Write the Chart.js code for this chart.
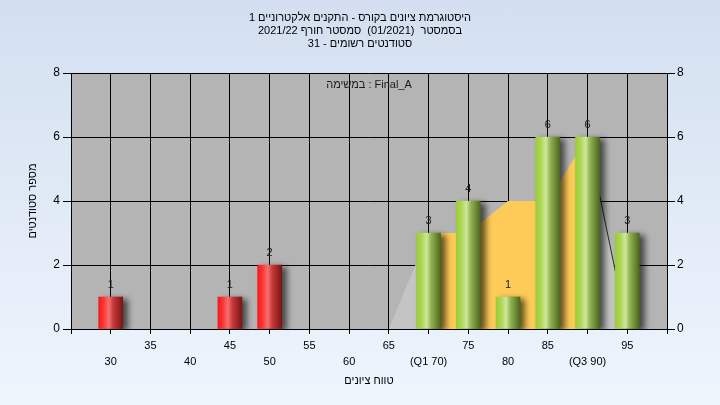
<!DOCTYPE html>
<html>
<head>
<meta charset="utf-8">
<script src="https://cdn.jsdelivr.net/npm/chart.js@4/dist/chart.umd.min.js"></script>
<style>
  html, body { margin: 0; padding: 0; }
  body { width: 720px; height: 405px; background: linear-gradient(#d3dff0, #eef5fd); overflow: hidden; }
  canvas { display: block; }
</style>
</head>
<body>
<canvas id="hist" width="720" height="405" dir="rtl"></canvas>
<script>
// --- DATA ---
const titleLines = [
  'היסטוגרמת ציונים בקורס - התקנים אלקטרוניים 1',
  'בסמסטר  (01/2021)  סמסטר חורף 2021/22',
  'סטודנטים רשומים - 31'
];
const scores = [30, 35, 40, 45, 50, 55, 60, 65, 70, 75, 80, 85, 90, 95];
const counts = [1, 0, 0, 1, 2, 0, 0, 0, 3, 4, 1, 6, 6, 3];
const curveScores = [65, 70, 75, 80, 85, 90, 95];
const curveValues = [0, 3, 3, 4, 4, 6, 0];
const q1 = 70, q3 = 90;
const passMark = 55;
const taskLabel = 'במשימה : Final_A';
const xTitle = 'טווח ציונים';
const yTitle = 'מספר סטודנטים';

const FONT = "'Liberation Sans', Arial, sans-serif";
const FS = 11;

// gradient cylinder look for the bars
function barFill(c) {
  const red = c.raw && c.raw.x < passMark;
  const chart = c.chart;
  if (!chart.chartArea || !chart.scales.x || !c.raw) return red ? '#e02020' : '#9cc83c';
  const px = chart.scales.x.getPixelForValue(c.raw.x);
  const g = chart.ctx.createLinearGradient(px - 12, 0, px + 12, 0);
  if (red) {
    g.addColorStop(0, '#ee1c1c');
    g.addColorStop(0.2, '#ff3434');
    g.addColorStop(0.42, '#f57070');
    g.addColorStop(0.6, '#c83a3a');
    g.addColorStop(1, '#7c1414');
  } else {
    g.addColorStop(0, '#9ccc3a');
    g.addColorStop(0.2, '#acd650');
    g.addColorStop(0.42, '#cfe79a');
    g.addColorStop(0.6, '#92b454');
    g.addColorStop(1, '#4c681c');
  }
  return g;
}

const plotBg = {
  id: 'plotBg',
  beforeDraw(chart) {
    const { ctx, chartArea: a } = chart;
    ctx.save();
    ctx.fillStyle = '#b4b4b4';
    ctx.fillRect(a.left, a.top, a.right - a.left, a.bottom - a.top);
    ctx.restore();
  }
};

const barShadow = {
  id: 'barShadow',
  beforeDatasetDraw(chart, args) {
    if (args.meta.type !== 'bar') return;
    const ctx = chart.ctx;
    ctx.save();
    ctx.shadowColor = 'rgba(0,0,0,0.6)';
    ctx.shadowBlur = 6;
    ctx.shadowOffsetX = 5;
    ctx.shadowOffsetY = 2;
  },
  afterDatasetDraw(chart, args) {
    if (args.meta.type !== 'bar') return;
    chart.ctx.restore();
  }
};

const barLabels = {
  id: 'barLabels',
  afterDatasetsDraw(chart) {
    const ctx = chart.ctx;
    const a = chart.chartArea;
    ctx.save();
    ctx.font = FS + 'px ' + FONT;
    ctx.fillStyle = '#1a1a1a';
    ctx.textAlign = 'center';
    ctx.textBaseline = 'middle';
    ctx.direction = 'ltr';
    const meta = chart.getDatasetMeta(0);
    meta.data.forEach((el, i) => {
      if (!counts[i]) return;
      ctx.fillText(String(counts[i]), el.x, el.y - 12);
    });
    ctx.fillText(taskLabel, (a.left + a.right) / 2, a.top + 12);
    ctx.restore();
  }
};

new Chart(document.getElementById('hist'), {
  type: 'bar',
  data: {
    datasets: [
      {
        type: 'bar',
        data: scores.map((s, i) => ({ x: s, y: counts[i] || null })),
        backgroundColor: barFill,
        borderWidth: 0,
        barThickness: 24,
        order: 0
      },
      {
        type: 'line',
        data: curveScores.filter(s => s >= q1 && s <= q3).map(s => ({ x: s, y: curveValues[curveScores.indexOf(s)] })),
        fill: 'origin',
        backgroundColor: '#fecb58',
        borderWidth: 0,
        borderColor: 'transparent',
        pointRadius: 0,
        tension: 0,
        order: 1
      },
      {
        type: 'line',
        data: curveScores.map((s, i) => ({ x: s, y: curveValues[i] })),
        fill: 'origin',
        backgroundColor: '#c4c4c4',
        borderWidth: 1,
        borderColor: 'transparent',
        segment: { borderColor: c => c.p0.parsed.x >= q3 ? '#2a2a2a' : 'transparent' },
        pointRadius: 0,
        tension: 0,
        order: 2
      }
    ]
  },
  options: {
    responsive: false,
    animation: false,
    devicePixelRatio: 1,
    layout: { padding: 0 },
    plugins: {
      legend: { display: false },
      tooltip: { enabled: false },
      title: {
        display: true,
        text: titleLines,
        color: '#000',
        font: { family: FONT, size: FS, weight: 'normal', lineHeight: 13 / FS },
        padding: { top: 11.5, bottom: 22.5 }
      }
    },
    scales: {
      x: {
        type: 'linear',
        min: 25,
        max: 100,
        offset: false,
        afterFit(s) { s.height = 76; },
        ticks: {
          stepSize: 5,
          autoSkip: false,
          maxRotation: 0,
          padding: 4,
          color: '#000',
          font: { family: FONT, size: FS, lineHeight: 16 / FS },
          callback(v) {
            if (v <= 25 || v >= 100) return '';
            let lab = String(v);
            if (v === q1) lab = '(Q1 ' + v + ')';
            if (v === q3) lab = '(Q3 ' + v + ')';
            return (v / 5) % 2 === 1 ? [lab, ''] : ['', lab];
          }
        },
        grid: { color: '#000', lineWidth: 1, tickLength: 5, offset: false },
        border: { color: '#000' },
        title: {
          display: true,
          text: xTitle,
          color: '#000',
          font: { family: FONT, size: FS, lineHeight: 1.2 },
          padding: { top: 0, bottom: 17 }
        }
      },
      y: {
        position: 'left',
        min: 0,
        max: 8,
        afterFit(s) { s.width = 71; },
        ticks: { stepSize: 2, padding: 3, color: '#000', font: { family: FONT, size: 12 } },
        grid: { color: '#000', lineWidth: 1, tickLength: 8 },
        border: { color: '#000' },
        title: {
          display: true,
          text: yTitle,
          color: '#000',
          font: { family: FONT, size: FS, lineHeight: 1.2 },
          padding: { top: 26, bottom: 0 }
        }
      },
      y2: {
        position: 'right',
        min: 0,
        max: 8,
        afterFit(s) { s.width = 53; },
        ticks: { stepSize: 2, padding: 2, color: '#000', font: { family: FONT, size: 12 } },
        grid: { drawOnChartArea: false, color: '#000', tickLength: 8 },
        border: { color: '#000' }
      }
    }
  },
  plugins: [plotBg, barShadow, barLabels]
});
</script>
</body>
</html>
